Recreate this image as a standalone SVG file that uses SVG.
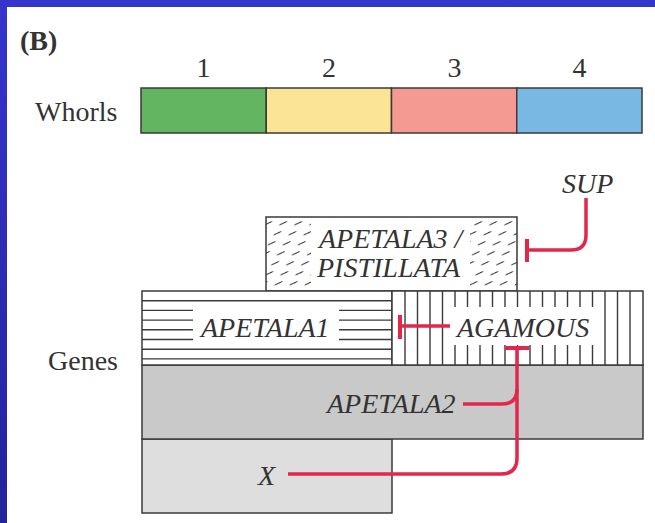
<svg xmlns="http://www.w3.org/2000/svg" width="655" height="523" viewBox="0 0 655 523">
  <defs>
    <linearGradient id="frame" x1="0" y1="0" x2="0" y2="1">
      <stop offset="0" stop-color="#3535cc"/>
      <stop offset="1" stop-color="#23239c"/>
    </linearGradient>
    <pattern id="dashes" patternUnits="userSpaceOnUse" width="15" height="10" patternTransform="translate(266,217) skewX(-30)">
      <line x1="3" y1="8" x2="8.5" y2="4.5" stroke="#333" stroke-width="1.4"/>
    </pattern>
    <style>
      .box { stroke: #3a3a3a; stroke-width: 1.5; }
      .hatch { stroke: #3a3a3a; stroke-width: 1.4; }
      .lbl { font-family: "Liberation Serif", "Times New Roman", serif; font-size: 28px; fill: #333; }
      .it { font-style: italic; }
      .red { fill: none; stroke: #e2274d; stroke-width: 3.5; stroke-linecap: butt; }
      .bar { fill: none; stroke: #e2274d; stroke-width: 4; }
    </style>
  </defs>

  <!-- background frame -->
  <rect x="0" y="0" width="655" height="523" fill="url(#frame)"/>
  <rect x="7" y="7" width="648" height="516" fill="#ffffff"/>

  <text class="lbl" x="20" y="50" font-weight="bold">(B)</text>

  <!-- Whorls -->
  <g id="whorls">
    <text class="lbl" x="35" y="121">Whorls</text>
    <g class="lbl" text-anchor="middle">
      <text x="203.5" y="77">1</text>
      <text x="329" y="77">2</text>
      <text x="454.5" y="77">3</text>
      <text x="579.5" y="77">4</text>
    </g>
    <rect x="141" y="88" width="125.25" height="45" fill="#64b562" class="box"/>
    <rect x="266.25" y="88" width="125.25" height="45" fill="#fce497" class="box"/>
    <rect x="391.5" y="88" width="125.25" height="45" fill="#f59a93" class="box"/>
    <rect x="516.75" y="88" width="125.25" height="45" fill="#7ab8e4" class="box"/>
  </g>

  <text class="lbl" x="48" y="370">Genes</text>

  <!-- X -->
  <g id="gene-x">
    <rect x="142" y="439" width="250" height="74" fill="#dedede" class="box"/>
    <text class="lbl it" x="258" y="485">X</text>
  </g>

  <!-- APETALA2 -->
  <g id="apetala2">
    <rect x="142" y="365" width="501" height="74" fill="#c9c9c9" class="box"/>
    <text class="lbl it" x="327" y="413">APETALA2</text>
  </g>

  <!-- APETALA3 / PISTILLATA -->
  <g id="apetala3-pistillata">
    <rect x="266" y="217" width="251" height="74" fill="url(#dashes)"/>
    <rect x="311" y="221" width="159" height="66" fill="#ffffff"/>
    <rect x="266" y="217" width="251" height="74" fill="none" class="box"/>
    <text class="lbl it" x="319" y="248">APETALA3 /</text>
    <text class="lbl it" x="317" y="277">PISTILLATA</text>
  </g>

  <!-- APETALA1 -->
  <g id="apetala1">
    <rect x="142" y="291" width="250" height="74" fill="#ffffff"/>
    <g class="hatch">
      <line x1="142" y1="300.7" x2="392" y2="300.7"/>
      <line x1="142" y1="349.2" x2="392" y2="349.2"/>
      <line x1="142" y1="358.9" x2="392" y2="358.9"/>
      <line x1="142" y1="310.4" x2="193" y2="310.4"/>
      <line x1="142" y1="320.1" x2="193" y2="320.1"/>
      <line x1="142" y1="329.8" x2="193" y2="329.8"/>
      <line x1="142" y1="339.5" x2="193" y2="339.5"/>
      <line x1="339" y1="310.4" x2="392" y2="310.4"/>
      <line x1="339" y1="320.1" x2="392" y2="320.1"/>
      <line x1="339" y1="329.8" x2="392" y2="329.8"/>
      <line x1="339" y1="339.5" x2="392" y2="339.5"/>
    </g>
    <rect x="142" y="291" width="250" height="74" fill="none" class="box"/>
    <text class="lbl it" x="201" y="337">APETALA1</text>
  </g>

  <!-- AGAMOUS -->
  <g id="agamous">
    <rect x="392" y="291" width="251" height="74" fill="#ffffff"/>
    <g class="hatch">
      <line x1="405" y1="291" x2="405" y2="365"/>
      <line x1="417.5" y1="291" x2="417.5" y2="365"/>
      <line x1="430" y1="291" x2="430" y2="365"/>
      <line x1="442.5" y1="291" x2="442.5" y2="365"/>
      <line x1="605" y1="291" x2="605" y2="365"/>
      <line x1="617.5" y1="291" x2="617.5" y2="365"/>
      <line x1="630" y1="291" x2="630" y2="365"/>
      <path d="M455 291V307M467.5 291V307M480 291V307M492.5 291V307M505 291V307M517.5 291V307M530 291V307M542.5 291V307M555 291V307M567.5 291V307M580 291V307M592.5 291V307"/>
      <path d="M455 345V365M467.5 345V365M480 345V365M492.5 345V365M505 345V365M517.5 345V365M530 345V365M542.5 345V365M555 345V365M567.5 345V365M580 345V365M592.5 345V365"/>
    </g>
    <rect x="392" y="291" width="251" height="74" fill="none" class="box"/>
    <text class="lbl it" x="457" y="337">AGAMOUS</text>
  </g>

  <!-- SUP -->
  <g id="sup">
    <text class="lbl it" x="562" y="193">SUP</text>
  </g>

  <!-- connectors -->
  <g id="connectors">
    <path class="red" d="M586 198V235Q586 250 571 250H527"/>
    <line class="bar" x1="527" y1="239" x2="527" y2="262"/>

    <path class="red" d="M450 326H400"/>
    <line class="bar" x1="400" y1="315" x2="400" y2="339"/>

    <path class="red" d="M517 348V458Q517 474 501 474H288"/>
    <path class="red" d="M463 404H502Q517 404 517 389"/>
    <line class="bar" x1="505" y1="348" x2="529" y2="348"/>
  </g>
</svg>
